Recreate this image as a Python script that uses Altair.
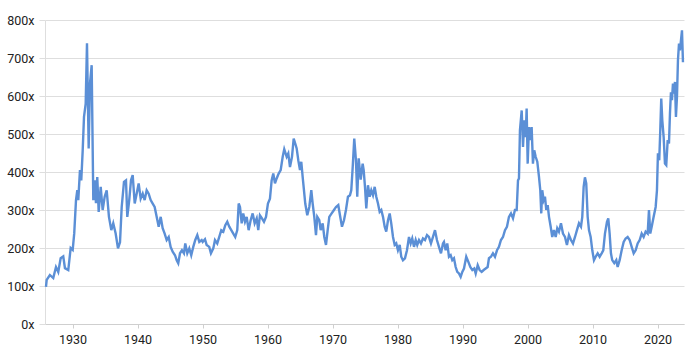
import altair as alt
import pandas as pd

# Decimal years (x) and ratio values (y)
years = [
    1925.91, 1926.02, 1926.51, 1927.03, 1927.45, 1927.80, 1928.17, 1928.57, 1928.83, 1929.34,
    1929.71, 1930.02, 1930.26, 1930.53, 1930.73, 1930.88, 1931.14, 1931.34, 1931.56, 1931.76,
    1932.02, 1932.22, 1932.48, 1932.68, 1932.94, 1933.19, 1933.40, 1933.60, 1933.80, 1934.02,
    1934.33, 1934.63, 1934.94, 1935.25, 1935.60, 1935.96, 1936.26, 1936.63, 1936.99, 1937.30,
    1937.56, 1937.91, 1938.22, 1938.42, 1938.72, 1938.99, 1939.25, 1939.56, 1939.86, 1940.17,
    1940.48, 1940.79, 1941.09, 1941.40, 1941.71, 1942.02, 1942.33, 1942.63, 1942.94, 1943.25,
    1943.56, 1943.86, 1944.17, 1944.48, 1944.79, 1945.09, 1945.40, 1945.76, 1946.02, 1946.26,
    1946.53, 1946.83, 1947.14, 1947.34, 1947.65, 1947.96, 1948.26, 1948.57, 1948.88, 1949.19,
    1949.50, 1949.86, 1950.02, 1950.37, 1950.63, 1951.03, 1951.29, 1951.65, 1951.91, 1952.26,
    1952.57, 1952.88, 1953.19, 1953.50, 1953.80, 1954.11, 1954.42, 1954.73, 1955.03, 1955.34,
    1955.56, 1955.76, 1956.02, 1956.26, 1956.53, 1956.79, 1957.09, 1957.40, 1957.71, 1958.02,
    1958.33, 1958.57, 1958.83, 1959.14, 1959.45, 1959.76, 1960.06, 1960.37, 1960.63, 1960.88,
    1961.14, 1961.40, 1961.71, 1962.02, 1962.33, 1962.57, 1962.94, 1963.19, 1963.45, 1963.76,
    1964.02, 1964.26, 1964.48, 1964.73, 1964.99, 1965.19, 1965.40, 1965.60, 1965.80, 1966.11,
    1966.42, 1966.73, 1966.94, 1967.19, 1967.45, 1967.65, 1967.96, 1968.17, 1968.48, 1968.73,
    1968.99, 1969.25, 1969.50, 1969.86, 1970.22, 1970.53, 1970.88, 1971.14, 1971.45, 1971.76,
    1972.06, 1972.37, 1972.68, 1972.88, 1973.10, 1973.34, 1973.60, 1973.80, 1974.02, 1974.33,
    1974.63, 1974.79, 1974.99, 1975.19, 1975.45, 1975.71, 1975.96, 1976.22, 1976.48, 1976.73,
    1976.99, 1977.25, 1977.50, 1977.76, 1978.02, 1978.26, 1978.53, 1978.79, 1979.03, 1979.30,
    1979.56, 1979.80, 1980.06, 1980.33, 1980.57, 1980.83, 1981.14, 1981.45, 1981.76, 1982.02,
    1982.26, 1982.53, 1982.79, 1983.03, 1983.30, 1983.60, 1983.91, 1984.22, 1984.53, 1984.83,
    1985.14, 1985.45, 1985.76, 1986.06, 1986.37, 1986.68, 1986.99, 1987.14, 1987.40, 1987.65,
    1987.91, 1988.17, 1988.42, 1988.68, 1988.94, 1989.19, 1989.45, 1989.71, 1989.96, 1990.22,
    1990.57, 1990.88, 1991.19, 1991.50, 1991.80, 1992.02, 1992.33, 1992.63, 1992.94, 1993.25,
    1993.56, 1993.86, 1994.06, 1994.37, 1994.68, 1994.99, 1995.30, 1995.60, 1995.91, 1996.22,
    1996.53, 1996.83, 1997.14, 1997.45, 1997.76, 1998.06, 1998.33, 1998.53, 1998.68, 1998.83,
    1999.10, 1999.30, 1999.50, 1999.71, 1999.86, 2000.02, 2000.22, 2000.42, 2000.63, 2000.83,
    2001.03, 2001.25, 2001.50, 2001.76, 2001.96, 2002.11, 2002.26, 2002.48, 2002.68, 2002.88,
    2003.10, 2003.30, 2003.56, 2003.80, 2004.06, 2004.33, 2004.57, 2004.83, 2005.14, 2005.45,
    2005.76, 2006.06, 2006.37, 2006.68, 2006.99, 2007.30, 2007.60, 2007.91, 2008.22, 2008.42,
    2008.63, 2008.83, 2009.03, 2009.25, 2009.45, 2009.71, 2009.96, 2010.22, 2010.48, 2010.79,
    2011.09, 2011.40, 2011.65, 2011.91, 2012.22, 2012.42, 2012.63, 2012.83, 2013.03, 2013.34,
    2013.65, 2013.86, 2014.17, 2014.48, 2014.79, 2015.09, 2015.40, 2015.71, 2016.02, 2016.33,
    2016.63, 2016.94, 2017.25, 2017.56, 2017.86, 2018.17, 2018.48, 2018.68, 2018.88, 2019.10,
    2019.40, 2019.71, 2019.91, 2020.06, 2020.26, 2020.42, 2020.57, 2020.73, 2020.94, 2021.14,
    2021.34, 2021.56, 2021.76, 2021.91, 2022.06, 2022.22, 2022.37, 2022.53, 2022.68, 2022.83,
    2022.99, 2023.14, 2023.30, 2023.45, 2023.60, 2023.76, 2023.91,
]

ratio = [
    98, 116, 129, 121, 150, 137, 173, 178, 147, 142,
    200, 195, 239, 326, 352, 326, 405, 378, 457, 545,
    580, 739, 462, 633, 681, 326, 378, 318, 387, 295,
    361, 300, 335, 352, 282, 247, 265, 238, 199, 215,
    308, 374, 378, 282, 326, 378, 392, 317, 343, 370,
    330, 343, 326, 352, 343, 326, 317, 308, 282, 256,
    282, 252, 238, 221, 229, 203, 190, 181, 168, 160,
    186, 194, 186, 212, 186, 199, 181, 203, 221, 234,
    216, 221, 216, 223, 208, 203, 186, 199, 221, 212,
    229, 247, 243, 260, 269, 256, 247, 238, 229, 247,
    317, 308, 265, 291, 269, 282, 247, 273, 291, 265,
    278, 247, 286, 278, 269, 282, 317, 330, 378, 396,
    370, 383, 396, 405, 440, 460, 440, 449, 413, 440,
    488, 475, 462, 431, 405, 427, 387, 352, 317, 286,
    308, 352, 317, 282, 234, 282, 273, 247, 265, 229,
    208, 247, 282, 291, 300, 308, 313, 286, 256, 273,
    300, 335, 339, 352, 413, 488, 431, 335, 436, 380,
    422, 405, 361, 304, 365, 335, 352, 339, 361, 335,
    317, 295, 300, 282, 256, 243, 273, 291, 265, 229,
    208, 212, 194, 208, 177, 168, 173, 194, 229, 212,
    225, 203, 221, 208, 221, 212, 225, 221, 234, 229,
    212, 229, 247, 221, 203, 186, 212, 216, 194, 212,
    177, 181, 168, 173, 150, 137, 133, 124, 137, 146,
    177, 164, 150, 142, 146, 133, 155, 142, 137, 142,
    146, 150, 173, 177, 186, 177, 194, 203, 221, 229,
    247, 256, 282, 291, 278, 300, 300, 378, 383, 510,
    562, 466, 536, 492, 567, 422, 518, 484, 518, 422,
    457, 440, 427, 387, 352, 291, 352, 326, 335, 300,
    313, 282, 256, 229, 247, 229, 252, 243, 265, 238,
    229, 208, 234, 221, 212, 229, 247, 265, 256, 282,
    361, 386, 370, 282, 247, 229, 194, 168, 177, 186,
    177, 186, 194, 238, 269, 278, 238, 186, 168, 160,
    168, 150, 168, 194, 216, 225, 229, 221, 203, 186,
    194, 212, 221, 238, 229, 243, 238, 300, 238, 256,
    282, 308, 352, 449, 431, 510, 593, 536, 492, 422,
    418, 484, 475, 554, 610, 589, 633, 606, 637, 545,
    598, 694, 738, 720, 746, 773, 689,
]

x_ticks = [1930, 1940, 1950, 1960, 1970, 1980, 1990, 2000, 2010, 2020]
y_ticks = [0, 100, 200, 300, 400, 500, 600, 700, 800]

df = pd.DataFrame({"year": years, "ratio": ratio})

GRID = "#dedede"
LABEL = "#222222"

chart = (
    alt.Chart(df)
    .mark_line(color="#5b8fd6", strokeWidth=2.4, interpolate="linear")
    .encode(
        x=alt.X(
            "year:Q",
            scale=alt.Scale(domain=[1925.76, 2024.07], nice=False, zero=False),
            axis=alt.Axis(
                values=x_ticks,
                format="d",
                title=None,
                grid=False,
                domainColor="#cfcfcf",
                tickColor="#cfcfcf",
                tickSize=4,
                labelPadding=5,
                labelFont="Roboto",
                labelFontSize=12.5,
                labelColor=LABEL,
            ),
        ),
        y=alt.Y(
            "ratio:Q",
            scale=alt.Scale(domain=[0, 800], nice=False),
            axis=alt.Axis(
                values=y_ticks,
                labelExpr="datum.value + 'x'",
                title=None,
                grid=True,
                gridColor=GRID,
                gridWidth=1,
                domainColor=GRID,
                tickColor=GRID,
                tickSize=6,
                labelPadding=5,
                labelFont="Roboto",
                labelFontSize=12.5,
                labelColor=LABEL,
            ),
        ),
    )
    .properties(
        width=639,
        height=304,
        autosize=alt.AutoSizeParams(type="none"),
        padding={"left": 45, "top": 20, "right": 16, "bottom": 32},
        background="white",
    )
    .configure_view(stroke=None)
)

chart.save("out.html", embed_options={"renderer": "svg", "actions": False})
